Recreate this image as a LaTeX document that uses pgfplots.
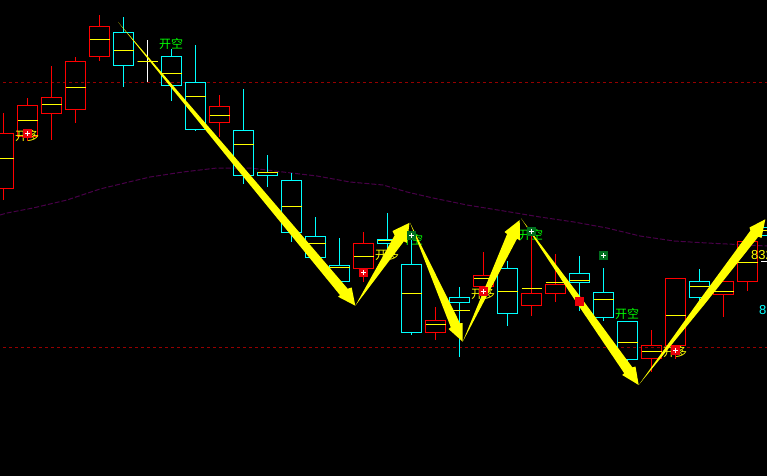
\documentclass[border=0pt]{standalone}
\usepackage{fontspec}
\setmainfont{Liberation Sans}
\newfontfamily\cjk{Noto Sans CJK SC}
\usepackage{pgfplots}
\usepackage{pgfplotstable}
\pgfplotsset{compat=1.18}
\usepgfplotslibrary{statistics}

% all values are pixel positions
\pgfplotstableread{
x wt bt mid bb wb
3.5 113.5 133.5 158.5 188.5 199.5
27.5 98.5 105.5 120.5 136.5 140.5
51.5 66.5 97.5 104.5 113.5 139.5
75.5 57.5 61.5 87.5 109.5 122.5
99.5 15.5 26.5 39.5 56.5 61.5
219.5 95.5 106.5 115.5 122.5 136.5
363.5 231.5 243.5 256.5 268.5 281.5
435.5 306.5 320.5 324.5 332.5 339.5
483.5 251.5 275.5 278.5 286.5 300.5
531.5 233.5 293.5 288.5 305.5 315.5
555.5 253.5 284.5 282.5 293.5 301.5
651.5 329.5 345.5 351.5 358.5 371.5
675.5 278.5 278.5 315.5 345.5 358.5
723.5 281.5 281.5 291.5 294.5 316.5
747.5 235.5 241.5 262.5 281.5 290.5
}\redrows
\pgfplotstableread{
x wt bt mid bb wb
123.5 17.5 32.5 50.5 65.5 87.5
171.5 49.5 56.5 73.5 85.5 101.5
195.5 45.5 82.5 96.5 129.5 130.5
243.5 89.5 130.5 144.5 175.5 183.5
267.5 154.5 172.5 172.5 175.5 186.5
291.5 172.5 180.5 206.5 232.5 241.5
315.5 216.5 236.5 243.5 257.5 257.5
339.5 237.5 265.5 267.5 281.5 281.5
387.5 212.5 239.5 240.5 243.5 260.5
411.5 238.5 264.5 293.5 332.5 334.5
459.5 286.5 297.5 310.5 302.5 356.5
507.5 260.5 268.5 291.5 313.5 325.5
579.5 255.5 273.5 280.5 282.5 310.5
603.5 267.5 292.5 299.5 317.5 320.5
627.5 321.5 321.5 342.5 359.5 366.5
699.5 268.5 281.5 286.5 297.5 301.5
771.5 220.5 227.5 230.5 235.5 245.5
}\cyanrows
\pgfplotstableread{
x wt bt mid bb wb
147.5 40.5 61.5 61.5 61.5 82.5
}\whiterows

\newcommand\getcell[3]{\pgfplotstablegetelem{#1}{#2}\of#3\edef\cell{\pgfplotsretval}}
\newcommand\candles[3]{%
  \pgfplotsinvokeforeach{#3}{%
    \getcell{##1}{x}{#1}\let\cx\cell
    \getcell{##1}{wt}{#1}\let\cwt\cell
    \getcell{##1}{bt}{#1}\let\cbt\cell
    \getcell{##1}{mid}{#1}\let\cmid\cell
    \getcell{##1}{bb}{#1}\let\cbb\cell
    \getcell{##1}{wb}{#1}\let\cwb\cell
    \edef\next{\noexpand\addplot[#2,line width=1bp,
      boxplot prepared={draw position=\cx,
        lower whisker=\cwt,lower quartile=\cbt,median=\cmid,
        upper quartile=\cbb,upper whisker=\cwb}] coordinates {};}
    \next
  }%
}

\definecolor{maline}{RGB}{72,0,72}
\definecolor{level}{RGB}{150,0,0}
\definecolor{iconred}{RGB}{235,0,10}
\definecolor{icongreen}{RGB}{0,110,30}
\definecolor{kred}{RGB}{255,0,0}
\definecolor{kcyan}{RGB}{0,255,255}
\definecolor{kyellow}{RGB}{255,255,0}
\definecolor{kgreen}{RGB}{0,255,0}
\definecolor{kwhite}{RGB}{255,255,255}
\definecolor{kblack}{RGB}{0,0,0}

\begin{document}
\begin{tikzpicture}
\clip (0,0) rectangle (767bp,476bp);
\fill[kblack] (0,0) rectangle (767bp,476bp);
\begin{axis}[
  scale only axis,
  width=767bp,height=476bp,
  xmin=0,xmax=767,ymin=0,ymax=476,
  y dir=reverse,
  hide axis,
  boxplot/draw direction=y,
  boxplot/box extend=20,
  boxplot/whisker extend=0,
  boxplot/every median/.style={kyellow,line width=1bp},
]
\addplot[level,line width=1bp,dash pattern=on 3bp off 3bp]
  coordinates {(3,82.5)(767,82.5)};
\addplot[level,line width=1bp,dash pattern=on 3bp off 3bp]
  coordinates {(3,347.5)(767,347.5)};
\addplot[maline,line width=1bp,dash pattern=on 5bp off 2bp] coordinates {
  (0,215)(7,213)(33,208)(67,200)(100,189)(133,181)(150,177)(183,172)(217,168)(250,168)
  (283,172)(317,176)(350,182)(383,185)(407,192)(433,198)(467,205)(510,212)
  (540,217)(574,222)(607,228)(640,236)(674,241)(707,243)(767,246)};

\candles{\redrows}{kred}{0,...,14}
\candles{\cyanrows}{kcyan}{0,...,16}
\candles{\whiterows}{kwhite}{0}
\addplot[kwhite,line width=1bp] coordinates {(761,261.5)(767,261.5)};

% signal labels
\node[text=kyellow,font=\cjk\fontsize{12bp}{12bp}\selectfont] at (axis cs:27,136) {开多};
\node[text=kyellow,font=\cjk\fontsize{12bp}{12bp}\selectfont] at (axis cs:387,255) {开多};
\node[text=kyellow,font=\cjk\fontsize{12bp}{12bp}\selectfont] at (axis cs:483,294) {开多};
\node[text=kyellow,font=\cjk\fontsize{12bp}{12bp}\selectfont] at (axis cs:675,352) {开多};
\node[text=kgreen,font=\cjk\fontsize{12bp}{12bp}\selectfont] at (axis cs:171,44) {开空};
\node[text=kgreen,font=\cjk\fontsize{12bp}{12bp}\selectfont] at (axis cs:411,240) {开空};
\node[text=kgreen,font=\cjk\fontsize{12bp}{12bp}\selectfont] at (axis cs:531,235) {开空};
\node[text=kgreen,font=\cjk\fontsize{12bp}{12bp}\selectfont] at (axis cs:627,314) {开空};
\node[text=kyellow,font=\fontsize{13bp}{13bp}\selectfont,anchor=west,inner sep=0pt] at (axis cs:751,255) {832};
\node[text=kcyan,font=\fontsize{13bp}{13bp}\selectfont,anchor=west,inner sep=0pt] at (axis cs:759,310) {8};

% buy and sell icons
\addplot[only marks,mark=square*,mark size=4bp,mark options={iconred,draw=iconred}]
  coordinates {(27.5,133)(363.5,272.5)(483,291.5)(675.5,350)(579.5,301.5)};
\addplot[only marks,mark=+,mark size=2.5bp,mark options={kwhite,line width=1bp}]
  coordinates {(27.5,133)(363.5,272.5)(483,291.5)(675.5,350)};
\addplot[only marks,mark=square*,mark size=4bp,mark options={icongreen,draw=icongreen}]
  coordinates {(411.5,235)(531.5,231)(603.5,255.5)};
\addplot[only marks,mark=+,mark size=2.5bp,mark options={kwhite,line width=1bp}]
  coordinates {(411.5,235)(531.5,231)(603.5,255.5)};

% tapered arrows
\addplot[fill=kyellow,draw=none] coordinates {
  (118,22)(239,162)(347.6,288.7)(351.7,287.5)(355.3,305.7)(338,296.7)(340,295.1)(234.4,165.8)} -- cycle;
\addplot[fill=kyellow,draw=none] coordinates {
  (355.3,305.7)(394.6,235.4)(392.5,231)(409.5,222.8)(407,243)(403.8,241.4)} -- cycle;
\addplot[fill=kyellow,draw=none] coordinates {
  (410,222.7)(460,323.3)(462.5,323)(462.7,341.7)(448.5,329)(450.8,327.3)} -- cycle;
\addplot[fill=kyellow,draw=none] coordinates {
  (462.7,341.7)(507.1,234)(504.5,232)(519.7,220)(520,240.5)(517.1,238.6)} -- cycle;
\addplot[fill=kyellow,draw=none] coordinates {
  (521,218.3)(582.6,299.8)(632.4,367.4)(635.5,366.5)(638.7,385)(622.2,375)(624.2,373.2)(577.2,303.6)} -- cycle;
\addplot[fill=kyellow,draw=none] coordinates {
  (638.7,385)(699.4,300.2)(750.4,230.6)(749.5,227.5)(765.3,219.3)(761.5,238)(758.4,236.6)(704.6,304.2)} -- cycle;
\end{axis}
\end{tikzpicture}
\end{document}
